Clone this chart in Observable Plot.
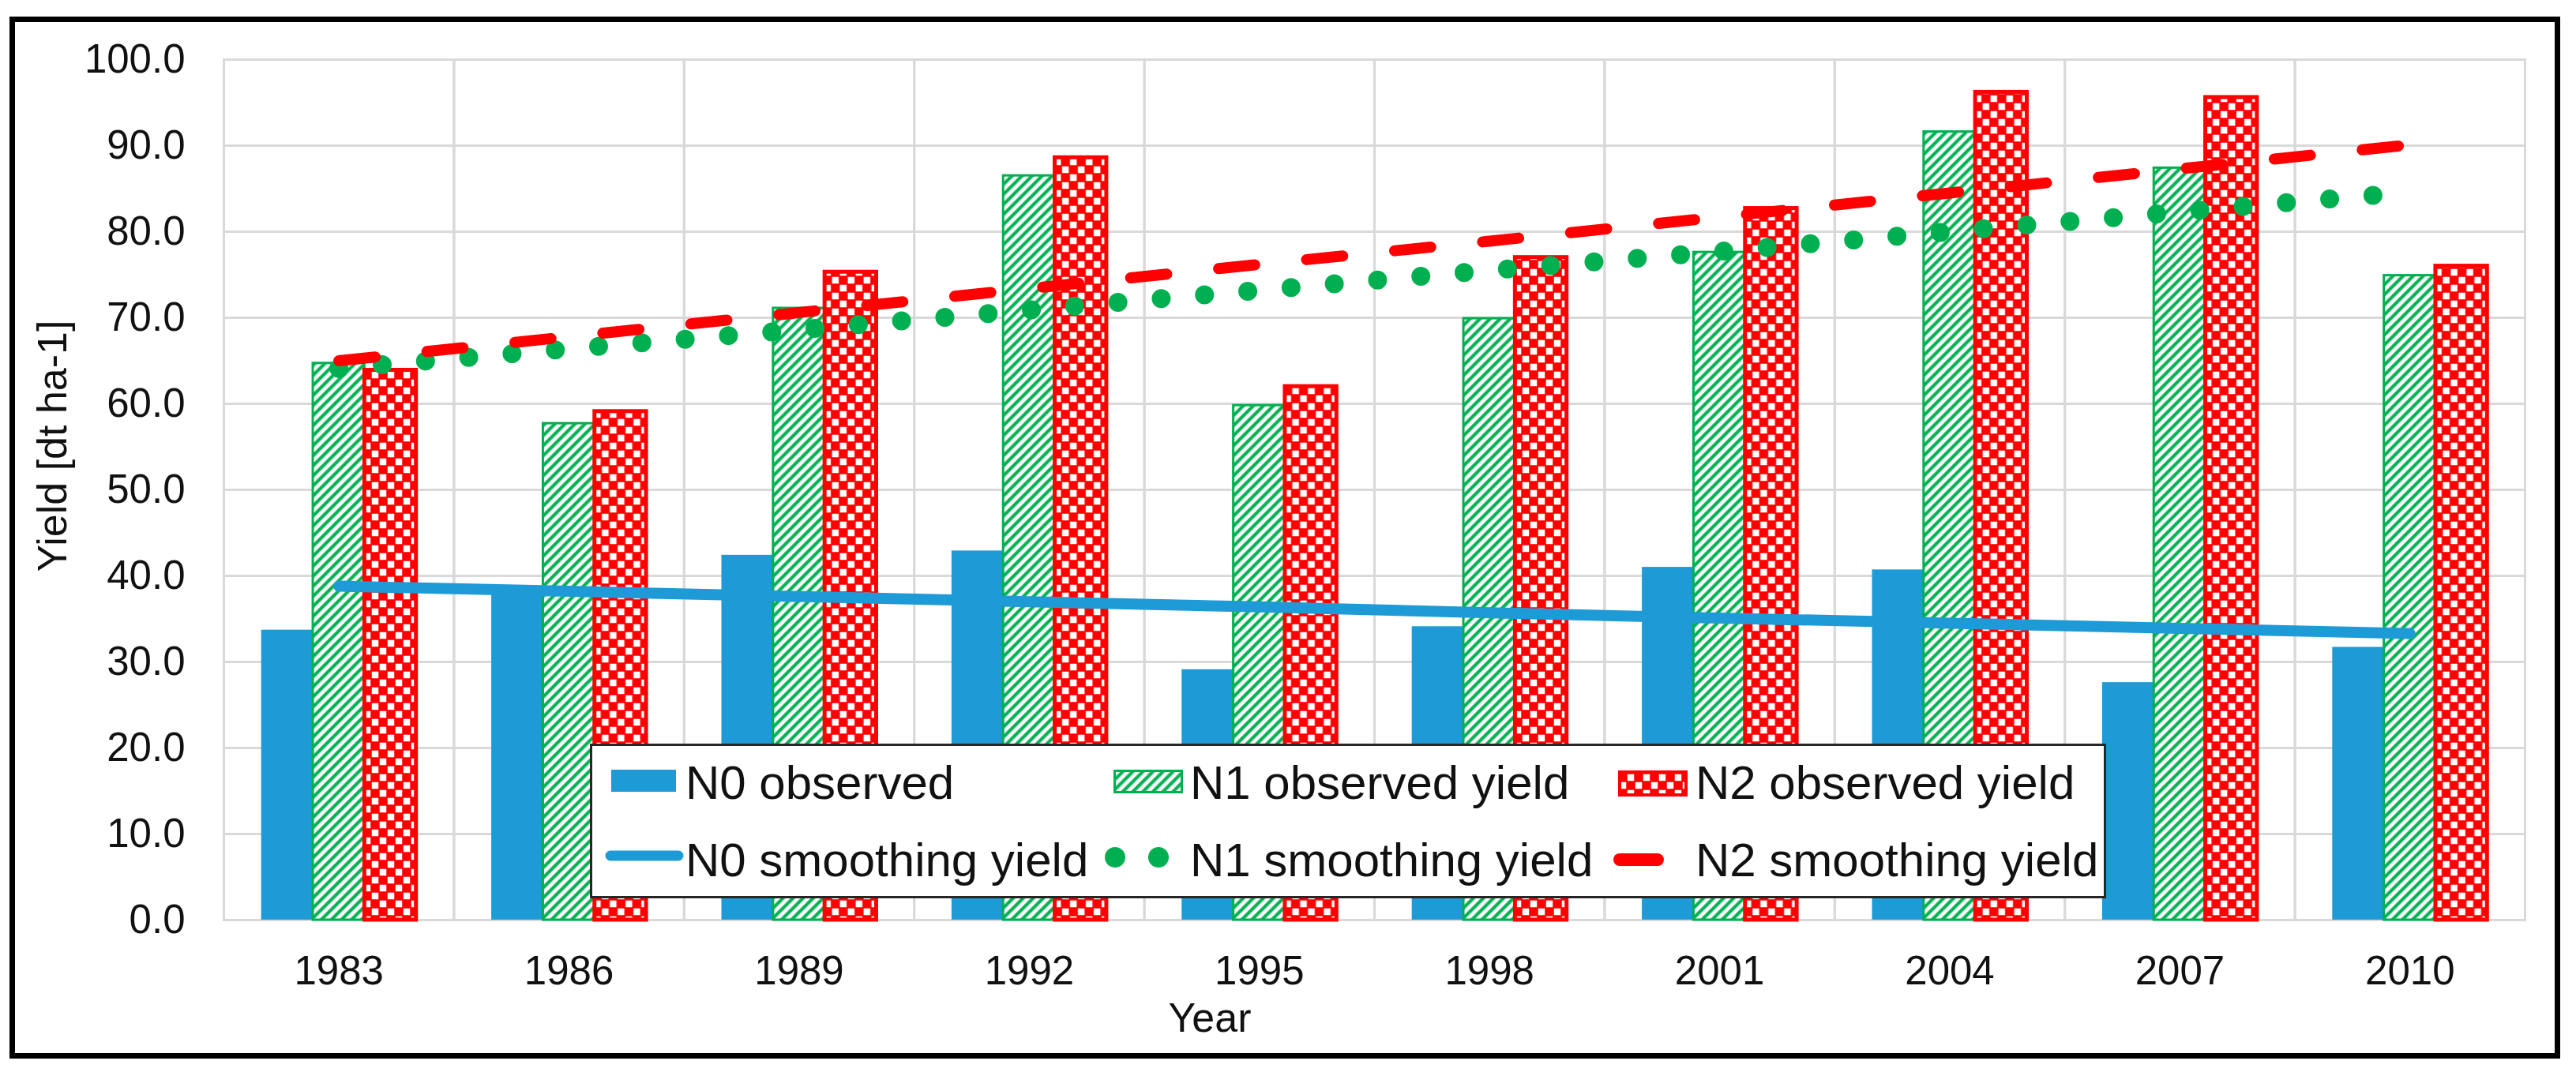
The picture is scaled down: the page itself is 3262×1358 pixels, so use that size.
<!DOCTYPE html>
<html>
<head>
<meta charset="utf-8">
<script src="https://cdn.jsdelivr.net/npm/d3@7"></script>
<script src="https://cdn.jsdelivr.net/npm/@observablehq/plot@0.6"></script>
<style>
  html, body { margin: 0; padding: 0; background: #fff; overflow: hidden; }
  #wrap { position: relative; width: 3262px; height: 1358px; }
  #wrap > svg, #wrap > div { position: absolute; left: 0; top: 0; }
  #border { left: 12px !important; top: 21px !important; width: 3230px; height: 1320px; box-sizing: border-box; border: 7px solid #000; }
</style>
</head>
<body>
<svg width="0" height="0" style="position:absolute">
  <defs>
    <pattern id="hatchN1" patternUnits="userSpaceOnUse" width="9" height="9" patternTransform="rotate(45)">
      <rect width="9" height="9" fill="#ffffff"></rect>
      <line x1="4.5" y1="-1" x2="4.5" y2="10" stroke="#00b050" stroke-width="4.2"></line>
    </pattern>
    <pattern id="checkN2" patternUnits="userSpaceOnUse" width="20" height="20">
      <rect width="20" height="20" fill="#ff0000"></rect>
      <rect x="0.75" y="0.75" width="8.5" height="8.5" fill="#ffffff"></rect>
      <rect x="10.75" y="10.75" width="8.5" height="8.5" fill="#ffffff"></rect>
    </pattern>
  </defs>
</svg>
<div id="wrap"><div id="border"></div></div>
<script>
// ---- data ----
const years = ["1983", "1986", "1989", "1992", "1995", "1998", "2001", "2004", "2007", "2010"];
const seriesKeys = ["N0", "N1", "N2"];
const n0Observed = [33.7, 38.0, 42.4, 42.9, 29.1, 34.1, 41.0, 40.7, 27.6, 31.7];
const n1Observed = [64.7, 57.7, 71.1, 86.5, 59.8, 69.9, 77.6, 91.6, 87.4, 74.9];
const n2Observed = [63.9, 59.1, 75.3, 88.6, 62.0, 77.0, 82.7, 96.2, 95.6, 76.0];
const n0Smooth = [38.8, 38.2, 37.6, 37.0, 36.4, 35.7, 35.1, 34.5, 33.9, 33.3];
const n1Smooth = [64.1, 66.4, 68.6, 70.9, 73.2, 75.5, 77.7, 80.0, 82.3, 84.6];
const n2Smooth = [65.0, 67.8, 70.6, 73.4, 76.2, 78.9, 81.7, 84.5, 87.3, 90.1];
const yTicks = [0, 10, 20, 30, 40, 50, 60, 70, 80, 90, 100];
const legendLabels = ["N0 observed", "N1 observed yield", "N2 observed yield",
                      "N0 smoothing yield", "N1 smoothing yield", "N2 smoothing yield"];

const BLUE = "#1e9ad6", GREEN = "#00b050", RED = "#ff0000";
const FONT = "'Liberation Sans', Arial, sans-serif";

const bars = years.flatMap((year, i) => [
  {year, series: "N0", value: n0Observed[i]},
  {year, series: "N1", value: n1Observed[i]},
  {year, series: "N2", value: n2Observed[i]}
]);
const smooth = years.flatMap((year, i) => [
  {year, series: "N0", value: n0Smooth[i]},
  {year, series: "N1", value: n1Smooth[i]},
  {year, series: "N2", value: n2Smooth[i]}
]);

const W = 3262, H = 1358;
const M = {marginTop: 75, marginBottom: 193, marginLeft: 283, marginRight: 65};

const barPlot = Plot.plot({
  width: W, height: H, ...M,
  style: {fontFamily: FONT, fontSize: "51px", color: "#111", background: "transparent"},
  facet: {data: bars, x: "year"},
  fx: {domain: years, padding: 0, round: false, label: null, axis: "bottom", tickSize: 0, tickPadding: 45},
  x: {domain: seriesKeys, paddingInner: 0, paddingOuter: 0.73, round: false, axis: null},
  y: {domain: [0, 100], ticks: yTicks, tickFormat: d3.format(".1f"), tickSize: 0, tickPadding: 49, label: null, axis: "left"},
  marks: [
    Plot.ruleY(yTicks, {stroke: "#d9d9d9", strokeWidth: 3}),
    Plot.frame({stroke: "#d9d9d9", strokeWidth: 3}),
    Plot.barY(bars, {filter: d => d.series === "N0", x: "series", y: "value", fill: BLUE}),
    Plot.barY(bars, {filter: d => d.series === "N1", x: "series", y: "value", fill: "url(#hatchN1)", stroke: GREEN, strokeWidth: 3}),
    Plot.barY(bars, {filter: d => d.series === "N2", x: "series", y: "value", fill: "url(#checkN2)", stroke: RED, strokeWidth: 5})
  ]
});

const linePlot = Plot.plot({
  width: W, height: H, ...M,
  style: {background: "transparent"},
  x: {type: "point", domain: years, padding: 0.5, round: false, axis: null},
  y: {domain: [0, 100], axis: null},
  marks: [
    Plot.line(smooth, {filter: d => d.series === "N0", x: "year", y: "value", stroke: BLUE, strokeWidth: 14, strokeLinecap: "round"}),
    Plot.line(smooth, {filter: d => d.series === "N1", x: "year", y: "value", stroke: GREEN, strokeWidth: 24, strokeDasharray: "0 55", strokeLinecap: "round"}),
    Plot.line(smooth, {filter: d => d.series === "N2", x: "year", y: "value", stroke: RED, strokeWidth: 14, strokeDasharray: "46 66", strokeLinecap: "round"})
  ]
});

const wrap = document.getElementById("wrap");
for (const el of [barPlot, linePlot]) {
  el.style.position = "absolute";
  el.style.left = "0px";
  el.style.top = "0px";
  el.style.background = "transparent";
  el.style.maxWidth = "none";
  wrap.appendChild(el);
}

// ---- titles and legend (outside the SVG plot area) ----
const over = d3.select(wrap).append("svg")
  .attr("width", W).attr("height", H)
  .style("position", "absolute").style("left", "0px").style("top", "0px")
  .style("font-family", FONT).style("fill", "#111");

over.append("text")
  .attr("transform", "translate(66,565) rotate(-90)")
  .attr("text-anchor", "middle").attr("dominant-baseline", "central")
  .style("font-size", "52px").text("Yield [dt ha-1]");
over.append("text")
  .attr("x", 1532).attr("y", 1307).attr("text-anchor", "middle")
  .style("font-size", "52px").text("Year");

const lg = over.append("g");
lg.append("rect").attr("x", 748.5).attr("y", 943.5).attr("width", 1917).attr("height", 193)
  .attr("fill", "#fff").attr("stroke", "#262626").attr("stroke-width", 3);

// row 1 swatches
lg.append("rect").attr("x", 774).attr("y", 975).attr("width", 82).attr("height", 28).attr("fill", BLUE);
lg.append("rect").attr("x", 1411.5).attr("y", 976.5).attr("width", 85).attr("height", 27)
  .attr("fill", "url(#hatchN1)").attr("stroke", GREEN).attr("stroke-width", 3);
lg.append("rect").attr("x", 2051).attr("y", 978).attr("width", 84).attr("height", 29)
  .attr("fill", "url(#checkN2)").attr("stroke", RED).attr("stroke-width", 4);
// row 2 swatches
lg.append("line").attr("x1", 773).attr("x2", 859).attr("y1", 1084).attr("y2", 1084)
  .attr("stroke", BLUE).attr("stroke-width", 13).attr("stroke-linecap", "round");
[1412, 1467].forEach(cx => {
  lg.append("circle").attr("cx", cx).attr("cy", 1086).attr("r", 13).attr("fill", GREEN);
});
lg.append("line").attr("x1", 2051).attr("x2", 2099).attr("y1", 1089).attr("y2", 1089)
  .attr("stroke", RED).attr("stroke-width", 16).attr("stroke-linecap", "round");

const colX = [868, 1507, 2147], rowY = [1012, 1110];
legendLabels.forEach((label, i) => {
  lg.append("text").attr("x", colX[i % 3]).attr("y", rowY[Math.floor(i / 3)])
    .style("font-size", "60px").text(label);
});
</script>
</body>
</html>
